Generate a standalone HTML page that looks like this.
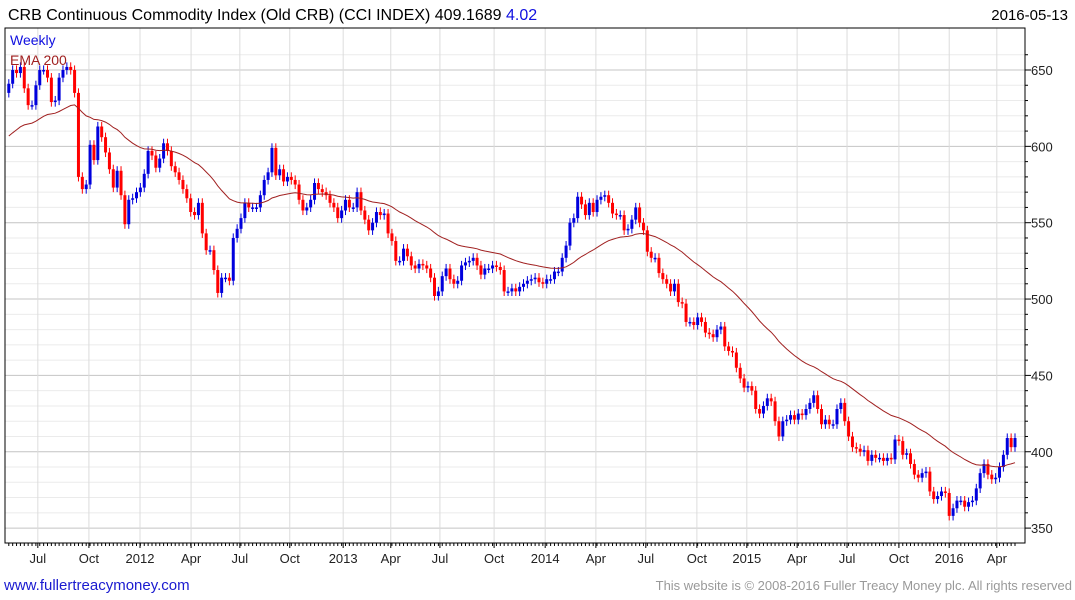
<!DOCTYPE html>
<html><head><meta charset="utf-8"><style>
body{margin:0;background:#fff;font-family:"Liberation Sans",sans-serif}
svg{display:block}
</style></head><body>
<svg id="c" width="1075" height="600" xmlns="http://www.w3.org/2000/svg">
<text x="8" y="20" font-size="16" fill="#000">CRB Continuous Commodity Index (Old CRB) (CCI INDEX) 409.1689 <tspan fill="#1010e0">4.02</tspan></text>
<text x="1068" y="20" font-size="15" fill="#000" text-anchor="end">2016-05-13</text>
<text x="4" y="590" font-size="15" fill="#1a1ad0">www.fullertreacymoney.com</text>
<text x="1072" y="590" font-size="13" fill="#999" text-anchor="end">This website is © 2008-2016 Fuller Treacy Money plc. All rights reserved</text>
</svg>
<script>
const closes=[641,650,648,652,638,627,627,640,650,650,645,629,630,645,650,652,650,635,580,572,575,601,591,613,606,596,585,573,584,568,549,565,566,570,573,582,597,594,586,592,602,597,587,583,578,572,566,557,555,563,543,532,532,519,504,514,514,512,540,546,553,563,560,560,560,
568,578,583,599,581,585,577,580,578,575,565,558,560,565,576,572,570,568,563,560,553,558,565,560,560,570,558,552,545,550,557,555,556,543,538,525,525,533,528,522,520,523,522,520,514,502,
505,515,520,513,510,512,522,524,525,527,522,516,520,520,522,521,519,505,505,507,505,508,510,512,513,514,511,510,513,
513,518,518,527,535,550,553,567,562,555,563,557,565,567,568,563,556,555,555,545,546,552,560,550,545,531,527,527,517,513,510,505,510,498,497,485,485,483,488,485,478,477,475,480,482,469,466,465,455,448,442,443,440,428,425,430,435,433,420,410,
420,421,424,421,425,424,428,432,437,428,418,421,418,418,428,432,420,410,403,402,400,401,394,398,396,396,394,396,395,408,407,398,399,392,385,383,386,387,374,369,371,374,373,358,363,368,368,364,367,368,376,386,392,385,382,383,390,398,409,403,409];
const firstOpen=635;
const emaSeed=605;
const yTicks=[350,400,450,500,550,600,650];
const xTickLabels=["Jul","Oct","2012","Apr","Jul","Oct","2013","Apr","Jul","Oct","2014","Apr","Jul","Oct","2015","Apr","Jul","Oct","2016","Apr"];
const xTickWeeks=[7.5,20.7,33.9,47.1,59.7,72.6,86.4,98.7,111.4,125.4,138.6,151.7,164.6,177.8,190.7,203.7,216.6,230.0,243,255.3];

const NS="http://www.w3.org/2000/svg";
const svg=document.getElementById('c');
const L=5,R=1025,T=28,B=543;
const n=closes.length;
const X=i=>1015-(n-1-i)*3.87;
const Y=p=>70+(650-p)*1.527;
function mk(t,a){const e=document.createElementNS(NS,t);for(const k in a)e.setAttribute(k,a[k]);svg.appendChild(e);return e;}
for(let p=340;p<=660;p+=10){const y=Y(p);if(y<T||y>B)continue;
 const g=mk('line',{x1:L,x2:R,y1:y,y2:y,stroke:p%50===0?'#c4c4c4':'#ebebeb','stroke-width':1});
 
 }
xTickWeeks.forEach((w,k)=>{const x=X(w);
 const g=mk('line',{x1:x,x2:x,y1:T,y2:B,stroke:'#dcdcdc','stroke-width':1});
 
 
 const t=mk('text',{x:x,y:563,'font-size':13,'text-anchor':'middle',fill:'#222'});t.textContent=xTickLabels[k];
 
 
 mk('line',{x1:x,x2:x,y1:B,y2:B+5,stroke:'#000'});});
yTicks.forEach(p=>{const t=mk('text',{x:1031,y:Y(p)+5,'font-size':13,fill:'#222'});t.textContent=p;
 
 });
for(let p=340;p<=660;p+=10){const y=Y(p);if(y<T||y>B)continue;mk('line',{x1:R,x2:R+(p%50===0?6:3),y1:y,y2:y,stroke:'#000'});}
for(let i=0;i<n;i++){mk('line',{x1:X(i),x2:X(i),y1:B,y2:B+3,stroke:'#000'});}
const fr=mk('rect',{x:L,y:T,width:R-L,height:B-T,fill:'none',stroke:'#000','stroke-width':1});


const cg=document.createElementNS(NS,'g');svg.appendChild(cg);
cg.setAttribute('clip-path','url(#clp)');
mk('clipPath',{id:'clp'}).innerHTML='<rect x="5" y="28" width="1020" height="515"/>';
for(let i=0;i<n;i++){
 const o=i?closes[i-1]:firstOpen,c=closes[i];
 const col=c>=o?'#0000dd':'#ff0000';
 const hi=Math.max(o,c)+3,lo=Math.min(o,c)-3,x=X(i);
 const w=document.createElementNS(NS,'line');
 w.setAttribute('x1',x);w.setAttribute('x2',x);w.setAttribute('y1',Y(hi));w.setAttribute('y2',Y(lo));w.setAttribute('stroke',col);
 
 
 cg.appendChild(w);
 const b=document.createElementNS(NS,'rect');
 const yt=Y(Math.max(o,c)),yb=Y(Math.min(o,c));
 b.setAttribute('x',x-1.5);b.setAttribute('width',3);b.setAttribute('y',yt);b.setAttribute('height',Math.max(1.5,yb-yt));b.setAttribute('fill',col);
 
 
 cg.appendChild(b);}
let e=emaSeed,pts=[];const a=2/41;
for(let i=0;i<n;i++){e=e+a*(closes[i]-e);pts.push(X(i).toFixed(1)+','+Y(e).toFixed(1));}
const pl=mk('polyline',{points:pts.join(' '),fill:'none',stroke:'#a02020','stroke-width':1});


const l1=mk('text',{x:10,y:45,'font-size':14,fill:'#1010e0'});l1.textContent='Weekly';


const l2=mk('text',{x:10,y:65,'font-size':14,fill:'#a02020'});l2.textContent='EMA 200';


</script>
</body></html>
